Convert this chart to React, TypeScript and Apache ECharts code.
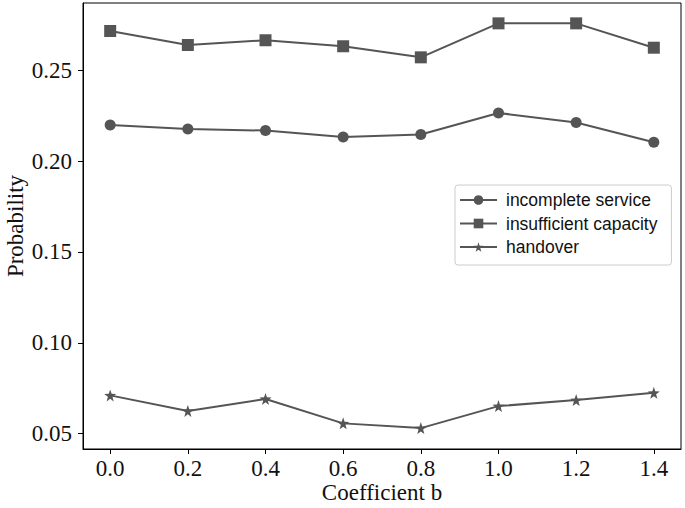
import React, { useEffect, useRef } from "react";
import * as echarts from "echarts";

const coefficients = [0.0, 0.2, 0.4, 0.6, 0.8, 1.0, 1.2, 1.4];
const incompleteService = [0.2199, 0.2177, 0.2168, 0.2133, 0.2146, 0.2265, 0.2212, 0.2104];
const insufficientCapacity = [0.2716, 0.2639, 0.2665, 0.2632, 0.2571, 0.2758, 0.2758, 0.2624];
const handover = [0.0711, 0.0625, 0.0691, 0.0557, 0.0531, 0.0652, 0.0685, 0.0725];
const xTicks = [0.0, 0.2, 0.4, 0.6, 0.8, 1.0, 1.2, 1.4];
const yTicks = [0.05, 0.1, 0.15, 0.2, 0.25];

const STAR =
  "path://M50,0 L61.8,36.2 L100,38.2 L69.1,61.8 L79.4,100 L50,77.6 L20.6,100 L30.9,61.8 L0,38.2 L38.2,36.2 Z";

export default function App() {
  const ref = useRef<HTMLDivElement>(null);
  useEffect(() => {
    if (!ref.current) return;
    const chart = echarts.init(ref.current, undefined, { renderer: "svg" });
    const color = "#555555";
    const serif = "'Liberation Serif', 'Times New Roman', serif";
    const mk = (name: string, data: number[], symbol: string, size: number) => ({
      name,
      type: "line",
      data: coefficients.map((c, i) => [c, data[i]]),
      symbol,
      symbolSize: size,
      lineStyle: { color, width: 2 },
      itemStyle: { color },
      showAllSymbol: true,
    });
    chart.setOption({
      animation: false,
      grid: {
        left: 83,
        top: 3,
        right: 4,
        bottom: 59,
        containLabel: false,
        outerBoundsMode: "none",
        show: true,
        borderColor: "#000",
        borderWidth: 1,
        backgroundColor: "transparent",
      },
      xAxis: {
        type: "value",
        min: -0.07,
        max: 1.47,
        name: "Coefficient b",
        nameLocation: "middle",
        nameGap: 32,
        nameMoveOverlap: false,
        nameTextStyle: { fontFamily: serif, fontSize: 23, color: "#111" },
        axisLine: { show: true, onZero: false, lineStyle: { color: "#000", width: 1 } },
        axisTick: { show: true, length: 5, customValues: xTicks, lineStyle: { color: "#000" } },
        axisLabel: {
          customValues: xTicks,
          formatter: (v: number) => v.toFixed(1),
          fontFamily: serif,
          fontSize: 23,
          color: "#111",
          margin: 8,
        },
        splitLine: { show: false },
      },
      yAxis: {
        type: "value",
        min: 0.0416,
        max: 0.287,
        name: "Probability",
        nameLocation: "middle",
        nameGap: 56,
        nameMoveOverlap: false,
        nameTextStyle: { fontFamily: serif, fontSize: 23, color: "#111" },
        axisLine: { show: true, onZero: false, lineStyle: { color: "#000", width: 1 } },
        axisTick: { show: true, length: 5, customValues: yTicks, lineStyle: { color: "#000" } },
        axisLabel: {
          customValues: yTicks,
          formatter: (v: number) => v.toFixed(2),
          fontFamily: serif,
          fontSize: 23,
          color: "#111",
          margin: 11,
        },
        splitLine: { show: false },
      },
      legend: {
        orient: "vertical",
        left: 455,
        top: 185,
        padding: [6, 14, 9, 4],
        itemWidth: 37,
        itemHeight: 12,
        itemGap: 5.5,
        borderColor: "#cccccc",
        borderWidth: 1,
        borderRadius: 3,
        textStyle: {
          fontFamily: "'Liberation Sans', Arial, sans-serif",
          fontSize: 17.5,
          color: "#111",
          padding: [0, 0, 0, 4],
        },
        data: ["incomplete service", "insufficient capacity", "handover"],
      },
      series: [
        mk("incomplete service", incompleteService, "circle", 11),
        mk("insufficient capacity", insufficientCapacity, "rect", 12),
        mk("handover", handover, STAR, 12),
      ],
    });
    return () => chart.dispose();
  }, []);
  return (
    <div
      ref={ref}
      style={{ position: "absolute", left: 0, top: 0, width: 685, height: 508 }}
    />
  );
}
